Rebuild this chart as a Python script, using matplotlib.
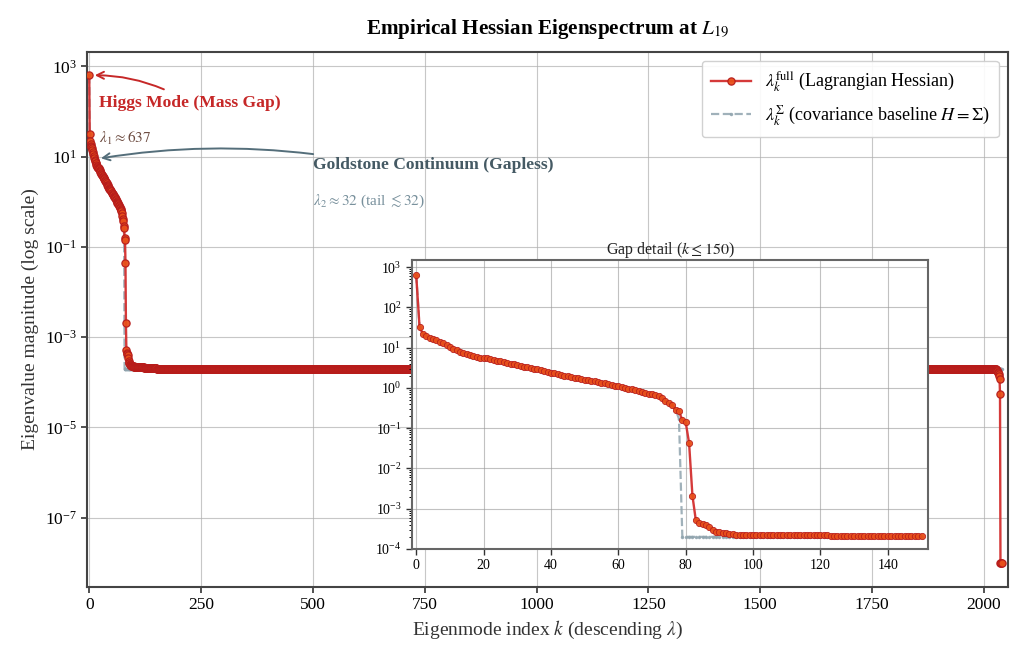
import numpy as np
import matplotlib
matplotlib.use("Agg")
import matplotlib.pyplot as plt
from matplotlib.ticker import LogLocator, NullLocator, NullFormatter

plt.rcParams["font.family"] = ["Liberation Serif", "DejaVu Serif"]
plt.rcParams["mathtext.fontset"] = "stix"

# eigenvalues
head_full = [
    637, 32, 22, 19.4, 17.5, 16.5, 15.3, 13.9, 12.9, 11.5,
    10.4, 9.5, 8.6, 8.0, 7.4, 7.1, 6.7, 6.2, 5.8, 5.7,
    5.6, 5.5, 5.3, 5.0, 4.8, 4.6, 4.4, 4.2, 4.0, 3.9,
    3.7, 3.55, 3.4, 3.3, 3.15, 3.0, 2.9, 2.8, 2.7, 2.55,
    2.4, 2.3, 2.2, 2.1, 2.0, 1.95, 1.9, 1.8, 1.75, 1.7,
    1.6, 1.55, 1.5, 1.45, 1.4, 1.35, 1.3, 1.25, 1.2, 1.15,
    1.1, 1.05, 1.0, 0.95, 0.92, 0.88, 0.84, 0.8, 0.76, 0.72,
    0.69, 0.66, 0.62, 0.55, 0.48, 0.42, 0.38, 0.29, 0.26, 0.16,
    0.14, 0.043, 2.1e-3, 5.2e-4, 4.4e-4, 4.2e-4, 4.0e-4, 3.5e-4, 3.0e-4, 2.7e-4,
    2.6e-4, 2.5e-4, 2.45e-4, 2.4e-4, 2.3e-4,
] + [2.25e-4] * 5 + [2.2e-4] * 23 + [2.05e-4] * 28
plateau_level = 2.0e-4
plateau_count = 1875
tail_full = [2.0e-4, 1.95e-4, 1.9e-4, 1.85e-4, 1.8e-4, 1.7e-4, 1.6e-4, 1.5e-4,
             1.35e-4, 1.2e-4, 5.4e-5, 1e-8, 1e-8, 1e-8, 1e-8]

baseline_last_bulk = 0.17   # covariance baseline at k = 78
baseline_floor = 2.0e-4     # covariance baseline for k >= 79

full = np.array(head_full + [plateau_level] * plateau_count + tail_full)
n = len(full)
k = np.arange(n)
base = np.concatenate([full[:78], [baseline_last_bulk], np.full(n - 79, baseline_floor)])

red_line = "#d32f2f"
red_face = "#e8501a"
red_edge = "#b71c1c"
grey = "#90a4ae"

fig = plt.figure(figsize=(10.24, 6.61), dpi=100)
ax = fig.add_axes([0.0854, 0.112, 0.8986, 0.81])


def draw(a, kk, f, b, ms, mew):
    a.plot(kk, b, ls="--", color=grey, lw=1.6, marker=".", ms=3, alpha=0.85, zorder=2,
           label=r"$\lambda_k^{\Sigma}$ (covariance baseline $H=\Sigma$)")
    a.plot(kk, f, ls="-", color=red_line, lw=1.7, marker="o", ms=ms, mfc=red_face,
           mec=red_edge, mew=mew, alpha=0.95, zorder=3,
           label=r"$\lambda_k^{\mathrm{full}}$ (Lagrangian Hessian)")


draw(ax, k, full, base, 5.2, 0.9)
ax.set_yscale("log")
ax.set_xlim(-4, 2053)
ax.set_ylim(10 ** -8.54, 10 ** 3.33)
ax.set_xticks(np.arange(0, 2001, 250))
ax.set_yticks([1e3, 1e1, 1e-1, 1e-3, 1e-5, 1e-7])
ax.yaxis.set_minor_locator(NullLocator())
ax.tick_params(labelsize=12.5, direction="out", length=4, width=1.2, color="#333333")
ax.grid(True, color="#b0b0b0", lw=0.8, alpha=0.7)
for s in ax.spines.values():
    s.set_color("#444444")
    s.set_linewidth(1.5)
ax.set_xlabel(r"Eigenmode index $k$ (descending $\lambda$)", fontsize=14, color="#333333")
ax.set_ylabel("Eigenvalue magnitude (log scale)", fontsize=14, color="#333333")
ax.set_title(r"Empirical Hessian Eigenspectrum at $L_{19}$", fontsize=15.2, fontweight="bold",
             pad=13)

h, l = ax.get_legend_handles_labels()
leg = ax.legend(h[::-1], l[::-1], loc="upper right", fontsize=13, frameon=True,
                fancybox=True, framealpha=0.9, edgecolor="#cccccc",
                borderpad=0.5, handlelength=2.2)

# annotations
ax.annotate("Higgs Mode (Mass Gap)", xy=(0, 637), xytext=(22, 155),
            fontsize=12.6, fontweight="bold", color="#c62828",
            arrowprops=dict(arrowstyle="->", color="#c62828", lw=1.4,
                            connectionstyle="arc3,rad=0.15", shrinkA=5, shrinkB=4),
            va="center", ha="left")
ax.text(22, 25, r"$\lambda_1 \approx 637$", fontsize=11, color="#6d4c41", va="center")
ax.annotate("Goldstone Continuum (Gapless)", xy=(20, 9), xytext=(500, 6.4),
            fontsize=12.6, fontweight="bold", color="#455a64",
            arrowprops=dict(arrowstyle="->", color="#546e7a", lw=1.4,
                            connectionstyle="arc3,rad=0.08", shrinkA=3, shrinkB=2,
                            relpos=(0.1, 1.0)),
            va="center", ha="left")
ax.text(500, 1.0, r"$\lambda_2 \approx 32$ (tail $\lesssim 32$)", fontsize=11,
        color="#78909c", va="center")

# inset
ins = fig.add_axes([0.4025, 0.1695, 0.504, 0.437])
m = 151
draw(ins, k[:m], full[:m], base[:m], 4.5, 0.6)
ins.set_yscale("log")
ins.set_xlim(-1.2, 152)
ins.set_ylim(1e-4, 1.5e3)
ins.set_xticks(np.arange(0, 141, 20))
ins.yaxis.set_major_locator(LogLocator(base=10, numticks=20))
ins.yaxis.set_minor_locator(LogLocator(base=10, subs=np.arange(2, 10), numticks=20))
ins.yaxis.set_minor_formatter(NullFormatter())
ins.tick_params(labelsize=10, direction="out", length=4, width=1.0, color="#333333")
ins.tick_params(which="minor", length=2, width=0.7)
ins.grid(True, color="#999999", lw=0.8, alpha=0.6)
ins.set_facecolor("white")
for s in ins.spines.values():
    s.set_color("#666666")
    s.set_linewidth(1.5)
ins.set_title(r"Gap detail ($k \leq 150$)", fontsize=11.5, pad=4, color="#222222")

fig.savefig("out.png", dpi=100)
